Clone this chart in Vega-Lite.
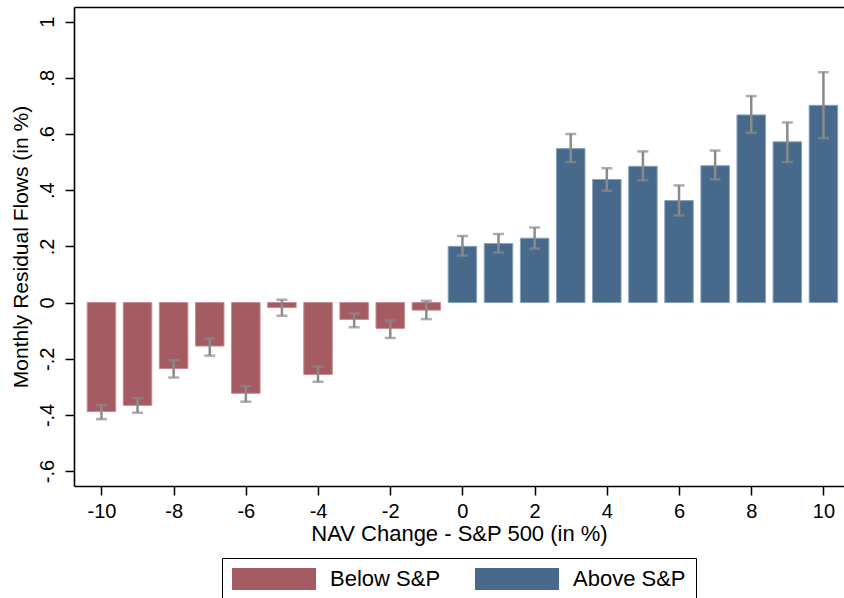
{
  "$schema": "https://vega.github.io/schema/vega-lite/v6.json",
  "width": 770,
  "height": 479,
  "autosize": "none",
  "padding": {"left": 74, "top": 7, "right": 0, "bottom": 112},
  "background": "white",
  "config": {
    "view": {"stroke": null},
    "font": "Liberation Sans",
    "axis": {
      "domainColor": "black", "domainWidth": 1.6,
      "tickColor": "black", "tickWidth": 1.5, "tickSize": 9,
      "labelColor": "black", "titleColor": "black",
      "titleFontWeight": "normal", "grid": false,
      "labelFont": "Liberation Sans", "titleFont": "Liberation Sans"
    }
  },
  "data": {
    "values": [
      {"x": -10, "value": -0.388, "lo": -0.415, "hi": -0.365, "group": "Below S&P"},
      {"x": -9, "value": -0.366, "lo": -0.392, "hi": -0.341, "group": "Below S&P"},
      {"x": -8, "value": -0.235, "lo": -0.267, "hi": -0.205, "group": "Below S&P"},
      {"x": -7, "value": -0.155, "lo": -0.189, "hi": -0.128, "group": "Below S&P"},
      {"x": -6, "value": -0.323, "lo": -0.353, "hi": -0.298, "group": "Below S&P"},
      {"x": -5, "value": -0.018, "lo": -0.047, "hi": 0.010, "group": "Below S&P"},
      {"x": -4, "value": -0.256, "lo": -0.282, "hi": -0.228, "group": "Below S&P"},
      {"x": -3, "value": -0.060, "lo": -0.088, "hi": -0.039, "group": "Below S&P"},
      {"x": -2, "value": -0.092, "lo": -0.126, "hi": -0.064, "group": "Below S&P"},
      {"x": -1, "value": -0.027, "lo": -0.059, "hi": 0.006, "group": "Below S&P"},
      {"x": 0, "value": 0.200, "lo": 0.167, "hi": 0.237, "group": "Above S&P"},
      {"x": 1, "value": 0.210, "lo": 0.178, "hi": 0.244, "group": "Above S&P"},
      {"x": 2, "value": 0.229, "lo": 0.192, "hi": 0.267, "group": "Above S&P"},
      {"x": 3, "value": 0.548, "lo": 0.500, "hi": 0.600, "group": "Above S&P"},
      {"x": 4, "value": 0.438, "lo": 0.398, "hi": 0.478, "group": "Above S&P"},
      {"x": 5, "value": 0.485, "lo": 0.435, "hi": 0.538, "group": "Above S&P"},
      {"x": 6, "value": 0.363, "lo": 0.310, "hi": 0.417, "group": "Above S&P"},
      {"x": 7, "value": 0.487, "lo": 0.439, "hi": 0.541, "group": "Above S&P"},
      {"x": 8, "value": 0.668, "lo": 0.604, "hi": 0.735, "group": "Above S&P"},
      {"x": 9, "value": 0.572, "lo": 0.500, "hi": 0.641, "group": "Above S&P"},
      {"x": 10, "value": 0.702, "lo": 0.585, "hi": 0.820, "group": "Above S&P"}
    ]
  },
  "layer": [
    {
      "mark": {"type": "bar", "size": 28.5, "strokeWidth": 1, "fillOpacity": 1},
      "encoding": {
        "x": {
          "field": "x", "type": "quantitative",
          "scale": {"domain": [-10.76, 10.57], "nice": false, "zero": false, "padding": 0},
          "axis": {
            "orient": "bottom", "values": [-10, -8, -6, -4, -2, 0, 2, 4, 6, 8, 10],
            "labelExpr": "(datum.value < 0 ? '-' : '') + abs(datum.value)",
            "labelFontSize": 20, "labelPadding": 6,
            "title": "NAV Change - S&P 500 (in %)", "titleFontSize": 22, "titlePadding": 2
          }
        },
        "y": {
          "field": "value", "type": "quantitative",
          "title": "Monthly Residual Flows (in %)",
          "scale": {"domain": [-0.653, 1.052], "nice": false},
          "axis": {
            "values": [-0.6, -0.4, -0.2, 0, 0.2, 0.4, 0.6, 0.8, 1],
            "labelExpr": "(datum.value < 0 ? '-' : '') + replace(format(abs(datum.value), '.1~f'), '0.', '.')",
            "labelAngle": -90, "labelFontSize": 20, "labelPadding": 8,
            "titleFontSize": 21, "titlePadding": 6
          }
        },
        "color": {
          "field": "group", "type": "nominal",
          "scale": {"domain": ["Below S&P", "Above S&P"], "range": ["#a45c62", "#476a8c"]},
          "legend": {
            "orient": "none", "legendX": 148, "legendY": 551,
            "direction": "horizontal", "title": null,
            "padding": 10, "strokeColor": "black", "fillColor": "white",
            "symbolType": "M-1,-1L6.64,-1L6.64,1L-1,1Z",
            "symbolSize": 484, "symbolOpacity": 1, "symbolStrokeWidth": 0,
            "labelFontSize": 22, "labelOffset": 76, "columnPadding": 34,
            "labelFont": "Liberation Sans", "labelColor": "black"
          }
        },
        "stroke": {
          "field": "group", "type": "nominal",
          "scale": {"domain": ["Below S&P", "Above S&P"], "range": ["#c48d92", "#8aa2b8"]},
          "legend": null
        }
      }
    },
    {
      "mark": {"type": "rule", "color": "#8a8a8a", "strokeWidth": 2.5},
      "encoding": {
        "x": {
          "field": "x", "type": "quantitative",
          "axis": {"orient": "top", "labels": false, "ticks": false, "title": null, "domain": true}
        },
        "y": {"field": "lo", "type": "quantitative", "title": "Monthly Residual Flows (in %)"},
        "y2": {"field": "hi"}
      }
    },
    {
      "mark": {"type": "tick", "orient": "horizontal", "color": "#8a8a8a", "size": 11, "thickness": 2.5},
      "encoding": {
        "x": {"field": "x", "type": "quantitative", "axis": null},
        "y": {"field": "lo", "type": "quantitative", "title": "Monthly Residual Flows (in %)"}
      }
    },
    {
      "mark": {"type": "tick", "orient": "horizontal", "color": "#8a8a8a", "size": 11, "thickness": 2.5},
      "encoding": {
        "x": {"field": "x", "type": "quantitative", "axis": null},
        "y": {"field": "hi", "type": "quantitative", "title": "Monthly Residual Flows (in %)"}
      }
    }
  ],
  "resolve": {"axis": {"x": "independent"}}
}
